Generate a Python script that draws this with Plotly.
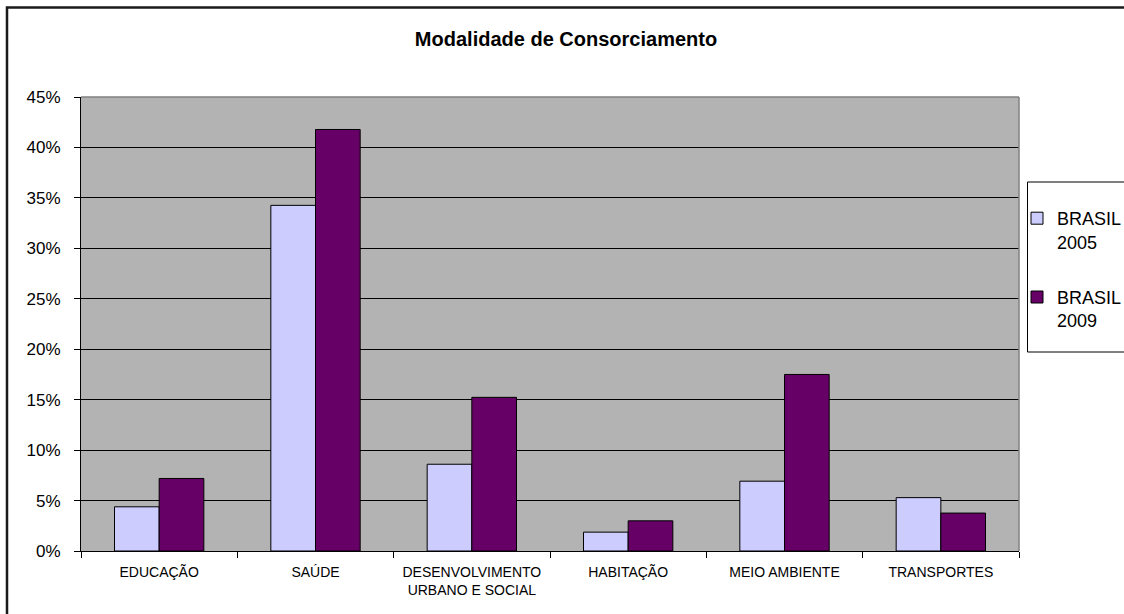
import plotly.graph_objects as go

# Share of inter-municipal consortia by area (fractions of 1)
categorias = ["EDUCAÇÃO", "SAÚDE", "DESENVOLVIMENTO<br>URBANO E SOCIAL",
              "HABITAÇÃO", "MEIO AMBIENTE", "TRANSPORTES"]
brasil_2005 = [0.0438, 0.3426, 0.0860, 0.0187, 0.0692, 0.0529]
brasil_2009 = [0.0719, 0.4178, 0.1523, 0.0299, 0.1750, 0.0376]
serie_nomes = ["BRASIL<br>2005", "BRASIL<br>2009"]
serie_cores = ["#CCCCFF", "#660066"]
y_ticks = [0, 0.05, 0.10, 0.15, 0.20, 0.25, 0.30, 0.35, 0.40, 0.45]

W, H = 1124, 614
L, R, T, B = 81, 105, 97, 63
pw, ph = W - L - R, H - T - B


def px_x(x):
    return (x - L) / pw


def px_y(y):
    return (H - B - y) / ph


FONT = "Liberation Sans, Arial, sans-serif"

fig = go.Figure()
for nome, valores, cor in zip(serie_nomes, [brasil_2005, brasil_2009], serie_cores):
    fig.add_trace(go.Bar(
        x=categorias, y=valores, name=nome, legendgroup=nome,
        marker=dict(color=cor, line=dict(color="black", width=1)),
    ))

shapes = [
    # outer chart frame
    dict(type="rect", xref="paper", yref="paper",
         x0=px_x(7), x1=px_x(1130), y0=px_y(620), y1=px_y(7.5),
         line=dict(color="#1a1a1a", width=2.5), fillcolor="rgba(0,0,0,0)"),
    # plot area border (top and right)
    dict(type="line", xref="paper", yref="paper", x0=0, x1=1, y0=1, y1=1,
         line=dict(color="#808080", width=1.5)),
    dict(type="line", xref="paper", yref="paper", x0=1, x1=1, y0=0, y1=1,
         line=dict(color="#808080", width=1.5)),
    # legend frame
    dict(type="rect", xref="paper", yref="paper",
         x0=px_x(1027.5), x1=px_x(1135), y0=px_y(352), y1=px_y(182),
         line=dict(color="black", width=1), fillcolor="white", layer="below"),
]

fig.update_layout(
    width=W, height=H,
    margin=dict(l=L, r=R, t=T, b=B, autoexpand=False),
    paper_bgcolor="white",
    plot_bgcolor="#B3B3B3",
    font=dict(family=FONT, color="black"),
    title=dict(text="<b>Modalidade de Consorciamento</b>",
               x=566 / W, xanchor="center", y=1 - 39 / H, yanchor="middle",
               font=dict(family=FONT, size=20, color="black")),
    barmode="group", bargap=0.4286, bargroupgap=0,
    showlegend=True,
    legend=dict(x=px_x(1017), xanchor="left", y=px_y(200), yanchor="top",
                bgcolor="rgba(0,0,0,0)", borderwidth=0,
                font=dict(family=FONT, size=18, color="black"),
                traceorder="grouped", tracegroupgap=29, valign="top",
                itemclick=False),
    shapes=shapes,
)

fig.update_yaxes(
    range=[0, 0.45], tickvals=y_ticks, tickformat=".0%",
    showgrid=True, gridcolor="black", gridwidth=1, zeroline=False,
    showline=True, linecolor="black", linewidth=1,
    ticks="outside", ticklen=6, tickcolor="black", ticklabelstandoff=10,
    tickfont=dict(family=FONT, size=17, color="black"),
)
fig.update_xaxes(
    showline=True, linecolor="black", linewidth=1,
    ticks="outside", ticklen=6, tickcolor="black", tickson="boundaries",
    showgrid=False, ticklabelstandoff=8,
    tickfont=dict(family=FONT, size=14, color="black"),
)

fig.write_html("out.html")
